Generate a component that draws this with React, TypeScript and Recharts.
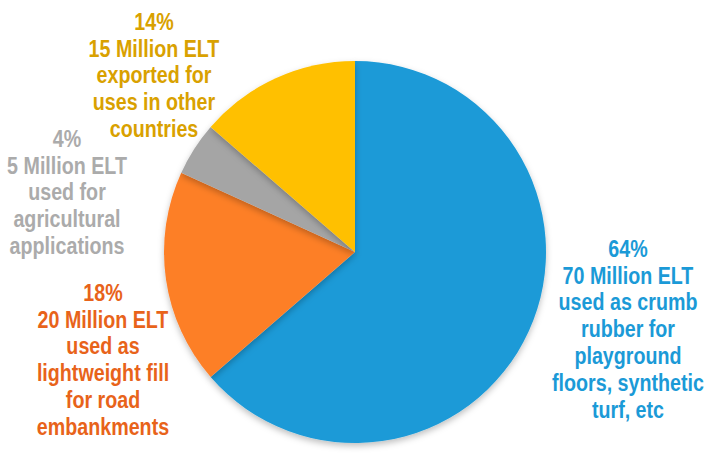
import { PieChart, Pie, Cell } from "recharts";

const categories = ["crumb rubber", "lightweight fill", "agricultural", "exported"];
const millions = [70, 20, 5, 15];
const percentLabels = ["64%", "18%", "4%", "14%"];
const labelLines = [
  ["70 Million ELT", "used as crumb", "rubber for", "playground", "floors, synthetic", "turf, etc"],
  ["20 Million ELT", "used as", "lightweight fill", "for road", "embankments"],
  ["5 Million ELT", "used for", "agricultural", "applications"],
  ["15 Million ELT", "exported for", "uses in other", "countries"],
];

const sliceColors = ["#1B9AD7", "#FD7F28", "#A5A5A5", "#FFC000"];
const textColors = ["#1B9AD7", "#E8631A", "#ABABAB", "#D9A100"];
// offset of each text block (first line) from the pie centre
const labelOffsets = [
  { dx: 273, dy: -4 },
  { dx: -252, dy: 40 },
  { dx: -288, dy: -114 },
  { dx: -201, dy: -231 },
];

const data = categories.map((name, i) => ({ name, value: millions[i] }));

const LINE_H = 26.8;
const NARROW = 0.82; // no Arial Narrow installed, squeeze Liberation Sans instead

const renderLabel = (props: any) => {
  const { cx, cy, index } = props;
  const off = labelOffsets[index];
  const x = cx + off.dx;
  const lines = [percentLabels[index], ...labelLines[index]];
  return (
    <text
      key={index}
      x={x}
      y={cy + off.dy}
      textAnchor="middle"
      dominantBaseline="central"
      fill={textColors[index]}
      transform={`translate(${x},0) scale(${NARROW},1) translate(${-x},0)`}
      style={{ fontFamily: "'Liberation Sans', Arial, sans-serif", fontWeight: 700, fontSize: 24 }}
    >
      {lines.map((l, j) => (
        <tspan key={j} x={x} dy={j === 0 ? 0 : LINE_H}>
          {l}
        </tspan>
      ))}
    </text>
  );
};

export default function App() {
  return (
    <div style={{ width: 714, height: 455, background: "#fff" }}>
      <style>{`body{margin:0}`}</style>
      <PieChart width={714} height={455} margin={{ top: 0, right: 0, bottom: 0, left: 0 }}>
        <defs>
          <filter id="pieShadow" x="-20%" y="-20%" width="140%" height="140%">
            <feDropShadow dx="0" dy="3" stdDeviation="3" floodColor="#000" floodOpacity="0.25" />
          </filter>
        </defs>
        <Pie
          data={data}
          dataKey="value"
          nameKey="name"
          cx={355}
          cy={252}
          outerRadius={191}
          startAngle={90}
          endAngle={-270}
          stroke="none"
          label={renderLabel}
          labelLine={false}
          isAnimationActive={false}
          style={{ filter: "url(#pieShadow)" }}
        >
          {data.map((d, i) => (
            <Cell key={d.name} fill={sliceColors[i]} stroke="none" />
          ))}
        </Pie>
      </PieChart>
    </div>
  );
}
